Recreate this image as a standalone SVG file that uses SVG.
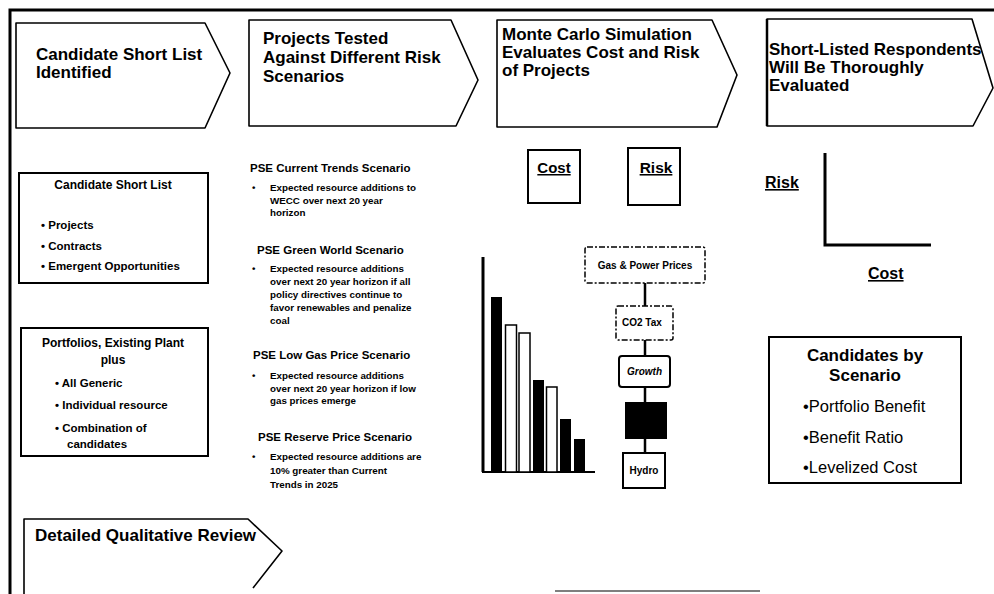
<svg xmlns="http://www.w3.org/2000/svg" width="994" height="594" viewBox="0 0 994 594">
<style>
text{font-family:"Liberation Sans",Arial,sans-serif;fill:#000}
.h{font-size:17px;font-weight:bold}
.chev{fill:#fff;stroke:#000;stroke-width:1.6;stroke-linejoin:round}
.box{fill:#fff;stroke:#000;stroke-width:2}
.dbox{fill:#fff;stroke:#000;stroke-width:1.5;stroke-dasharray:6 2 2 2}
.bt{font-size:12px;font-weight:bold}
.bl{font-size:11.5px;font-weight:bold}
.st{font-size:11.5px;font-weight:bold}
.sb{font-size:9.8px;font-weight:bold}
.u{text-decoration:underline;font-weight:bold}
.sm{font-size:10px;font-weight:bold}
.c{text-anchor:middle}
.barb{fill:#000}
.barw{fill:#fff;stroke:#000;stroke-width:1.5}
.ln{stroke:#000;fill:none}
</style>
<rect width="994" height="594" fill="#fff"/>
<g id="frame">
<path class="ln" d="M10,594 V10 H994" stroke-width="3"/>
<path class="ln" d="M555,591 H760" stroke-width="1.2" stroke="#555"/>
</g>
<g id="step1">
<path class="chev" d="M16,23 H205 L230,73 L205,128 H16 Z"/>
<text class="h" x="36" y="60">Candidate Short List</text>
<text class="h" x="36" y="78">Identified</text>
</g>
<g id="step2">
<path class="chev" d="M249,20 H451 L478,80 L456,126 H249 Z"/>
<text class="h" x="263" y="44">Projects Tested</text>
<text class="h" x="263" y="63">Against Different Risk</text>
<text class="h" x="263" y="82">Scenarios</text>
</g>
<g id="step3">
<path class="chev" d="M497,20 H712 L737,75 L717,127 H497 Z"/>
<text class="h" x="502" y="40">Monte Carlo Simulation</text>
<text class="h" x="502" y="58">Evaluates Cost and Risk</text>
<text class="h" x="502" y="76">of Projects</text>
</g>
<g id="step4">
<path class="chev" d="M767,19 H972 L993,88 L973,126 H767 Z"/>
<path class="ln" d="M767,19 V126" stroke-width="2.5"/>
<text class="h" x="769" y="55">Short-Listed Respondents</text>
<text class="h" x="769" y="73">Will Be Thoroughly</text>
<text class="h" x="769" y="91">Evaluated</text>
</g>
<g id="step5">
<path class="chev" d="M24,594 V519 H248 L282,551 L253,588"/>
<text class="h" x="35" y="541">Detailed Qualitative Review</text>
</g>
<g id="shortlist">
<rect class="box" x="19" y="173" width="189" height="110"/>
<text class="bt c" x="113" y="189">Candidate Short List</text>
<text class="bl" x="41" y="229">• Projects</text>
<text class="bl" x="41" y="250">• Contracts</text>
<text class="bl" x="41" y="270">• Emergent Opportunities</text>
</g>
<g id="portfolios">
<rect class="box" x="21" y="328" width="187" height="128"/>
<text class="bt c" x="113" y="347">Portfolios, Existing Plant</text>
<text class="bt c" x="113" y="364">plus</text>
<text class="bl" x="55" y="387">• All Generic</text>
<text class="bl" x="55" y="409">• Individual resource</text>
<text class="bl" x="55" y="432">• Combination of</text>
<text class="bl" x="67" y="448">candidates</text>
</g>
<g id="scenarios">
<text class="st" x="250" y="172">PSE Current Trends Scenario</text>
<text class="sb" x="252" y="191">•</text>
<text class="sb" x="270" y="191">Expected resource additions to</text>
<text class="sb" x="270" y="203.5">WECC over next 20 year</text>
<text class="sb" x="270" y="216">horizon</text>
<text class="st" x="257" y="254">PSE Green World Scenario</text>
<text class="sb" x="252" y="272">•</text>
<text class="sb" x="270" y="272">Expected resource additions</text>
<text class="sb" x="270" y="285">over next 20 year horizon if all</text>
<text class="sb" x="270" y="298">policy directives continue to</text>
<text class="sb" x="270" y="311">favor renewables and penalize</text>
<text class="sb" x="270" y="324">coal</text>
<text class="st" x="253" y="359">PSE Low Gas Price Scenario</text>
<text class="sb" x="252" y="379">•</text>
<text class="sb" x="270" y="379">Expected resource additions</text>
<text class="sb" x="270" y="391.5">over next 20 year horizon if low</text>
<text class="sb" x="270" y="404">gas prices emerge</text>
<text class="st" x="258" y="441">PSE Reserve Price Scenario</text>
<text class="sb" x="252" y="460">•</text>
<text class="sb" x="270" y="460">Expected resource additions are</text>
<text class="sb" x="270" y="474">10% greater than Current</text>
<text class="sb" x="270" y="488">Trends in 2025</text>
</g>
<g id="cost-box">
<rect class="box" x="528" y="150" width="52" height="53"/>
<text class="u c" x="554" y="173" font-size="15">Cost</text>
</g>
<g id="risk-box">
<rect class="box" x="628" y="148" width="52" height="57"/>
<text class="u c" x="656" y="173" font-size="15.5">Risk</text>
</g>
<g id="bar-chart">
<path class="ln" d="M483,257 V472" stroke-width="3"/>
<path class="ln" d="M482,472 H595" stroke-width="2"/>
<rect class="barb" x="491" y="297" width="11" height="175"/>
<rect class="barw" x="505.5" y="325" width="11" height="147"/>
<rect class="barw" x="519" y="333" width="11" height="139"/>
<rect class="barb" x="533" y="380" width="11" height="92"/>
<rect class="barw" x="546.5" y="387" width="10.5" height="85"/>
<rect class="barb" x="560" y="419" width="11" height="53"/>
<rect class="barb" x="574" y="439" width="11" height="33"/>
</g>
<g id="connectors">
<path class="ln" stroke-width="2.5" d="M645,283 V306 M645,340 V356 M645,387 V403 M645,439 V453"/>
</g>
<g id="gas-power">
<rect class="dbox" x="585" y="247" width="120" height="36" rx="2"/>
<text class="sm c" x="645" y="269">Gas &amp; Power Prices</text>
</g>
<g id="co2">
<rect class="dbox" x="616" y="306" width="57" height="34" rx="2"/>
<text class="sm" x="622" y="326">CO2 Tax</text>
</g>
<g id="growth">
<rect class="box" x="619" y="356" width="51" height="31" rx="3" stroke-width="1.5"/>
<text class="sm c" x="644.5" y="375" font-style="italic" font-size="9">Growth</text>
</g>
<g id="black-box">
<rect x="625" y="402" width="42" height="37" fill="#000"/>
</g>
<g id="hydro">
<rect class="box" x="623" y="453" width="42" height="35" stroke-width="1.5"/>
<text class="sm c" x="644" y="474" font-size="9.5">Hydro</text>
</g>
<g id="risk-cost-plot">
<text class="u" x="765" y="188" font-size="16">Risk</text>
<path class="ln" d="M825,153 V245 H931" stroke-width="3"/>
<text class="u" x="868" y="279" font-size="16">Cost</text>
</g>
<g id="candidates">
<rect class="box" x="769" y="337" width="192" height="146" stroke-width="2.5"/>
<text class="c" x="865" y="361" font-size="17" font-weight="bold">Candidates by</text>
<text class="c" x="865" y="381" font-size="17" font-weight="bold">Scenario</text>
<text x="803" y="412" font-size="16.5">•Portfolio Benefit</text>
<text x="803" y="443" font-size="16.5">•Benefit Ratio</text>
<text x="803" y="473" font-size="16.5">•Levelized Cost</text>
</g>
</svg>
